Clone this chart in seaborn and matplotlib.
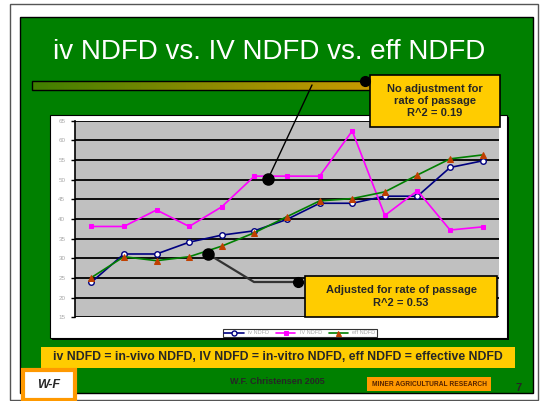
import numpy as np
import pandas as pd
import matplotlib
matplotlib.use("Agg")
import matplotlib.pyplot as plt
from matplotlib.patches import Rectangle
from matplotlib.colors import LinearSegmentedColormap
import seaborn as sns

# ---- data ----
samples = list(range(1, 14))
iv_ndfd = [38.1, 38.1, 42.3, 38.1, 43.1, 50.9, 50.9, 50.9, 62.4, 40.9, 47.2, 37.2, 38.0]
IV_ndfd = [23.9, 31.1, 31.1, 34.1, 35.9, 37.0, 39.9, 44.0, 44.0, 45.8, 45.8, 53.1, 54.8]
eff_ndfd = [25.1, 30.4, 29.4, 30.4, 33.1, 36.5, 40.6, 44.6, 45.2, 46.9, 51.2, 55.3, 56.3]
series_names = ["iv NDFD", "IV NDFD", "eff NDFD"]
y_ticks = [15, 20, 25, 30, 35, 40, 45, 50, 55, 60, 65]

title = "iv NDFD vs. IV NDFD vs. eff NDFD"
note_top = "No adjustment for\nrate of passage\nR^2 = 0.19"
note_bottom = "Adjusted for rate of passage\nR^2 = 0.53"
footnote = "iv NDFD = in-vivo NDFD, IV NDFD = in-vitro NDFD, eff NDFD = effective NDFD"
credit = "W.F. Christensen 2005"
banner = "MINER AGRICULTURAL RESEARCH"
page_no = "7"

sns.set_theme(style="white")
plt.rcParams["font.family"] = ["Liberation Sans", "DejaVu Sans"]

W, H = 542, 401
fig = plt.figure(figsize=(W / 100, H / 100), dpi=100)
fig.patch.set_facecolor("white")

# pixel-space canvas for the slide decoration
bg = fig.add_axes([0, 0, 1, 1], zorder=0)
bg.set_xlim(0, W)
bg.set_ylim(H, 0)
bg.axis("off")


def rect(axis, x0, y0, x1, y1, **kw):
    axis.add_patch(Rectangle((x0, y0), x1 - x0, y1 - y0, **kw))


GREEN = "#008000"
GOLD = "#FFCC00"
ORANGE = "#FF9900"

rect(bg, 10, 4, 538, 400, facecolor="white", edgecolor="#555555", lw=1)
rect(bg, 20, 17, 533, 393, facecolor=GREEN, edgecolor="black", lw=1)

bg.text(269, 52, title, color="white", fontsize=20, ha="center", va="center")

# gradient strip under the title
cmap = LinearSegmentedColormap.from_list("strip", ["#3f7f00", "#8a8a00", "#c89a00"])
grad = np.linspace(0, 1, 256).reshape(1, -1)
bg.imshow(grad, cmap=cmap, extent=(32, 372, 90, 81), aspect="auto", zorder=2)
rect(bg, 32, 81, 372, 90, facecolor="none", edgecolor="black", lw=1, zorder=3)

# chart area with drop shadow
rect(bg, 52, 117, 509, 340, facecolor="black", edgecolor="none", zorder=2)
rect(bg, 50, 115, 507, 338, facecolor="white", edgecolor="black", lw=0.8, zorder=3)

# footnote band and footer
rect(bg, 41, 347, 515, 368, facecolor=GOLD, edgecolor="none")
bg.text(278, 357.5, footnote, fontsize=8.8, fontweight="bold", ha="center", va="center")

rect(bg, 23, 370, 75, 400, facecolor="white", edgecolor=ORANGE, lw=3)
bg.text(49, 385, "W-F", fontsize=9, fontweight="bold", style="italic",
        ha="center", va="center")
bg.text(277, 382, credit, fontsize=6.5, fontweight="bold", ha="center", va="center")
rect(bg, 367, 377, 491, 391, facecolor=ORANGE, edgecolor="none")
bg.text(429, 384, banner, fontsize=4.8, fontweight="bold", color="#552200",
        ha="center", va="center")
bg.text(519, 388, page_no, fontsize=8, fontweight="bold", ha="center", va="center")

# ---- line chart ----
px0, px1, py0, py1 = 75, 499, 120.7, 317.3
ax = fig.add_axes([px0 / W, 1 - py1 / H, (px1 - px0) / W, (py1 - py0) / H], zorder=4)
ax.set_facecolor("#C0C0C0")

sns.lineplot(x=samples, y=IV_ndfd, ax=ax, color="#000080", lw=1.2, marker="o",
             markersize=4, markerfacecolor="white", markeredgecolor="#000080",
             markeredgewidth=1, label=series_names[0], zorder=5)
sns.lineplot(x=samples, y=iv_ndfd, ax=ax, color="#FF00FF", lw=1.2, marker="s",
             markersize=3.5, markerfacecolor="#FF00FF", markeredgecolor="#FF00FF",
             label=series_names[1], zorder=5)
sns.lineplot(x=samples, y=eff_ndfd, ax=ax, color="#008000", lw=1.2, marker="^",
             markersize=4, markerfacecolor="#C04000", markeredgecolor="#C04000",
             label=series_names[2], zorder=5)

ax.set_xlim(0.5, 13.5)
ax.set_ylim(15, 65)
ax.set_yticks(y_ticks)
ax.set_xticks([])
ax.yaxis.grid(True, color="black", lw=1.3)
ax.set_axisbelow(True)
ax.set_xlabel("")
ax.set_ylabel("")
for side in ["top", "right", "bottom"]:
    ax.spines[side].set_visible(False)
ax.spines["left"].set_color("black")
ax.spines["left"].set_linewidth(1.2)
ax.tick_params(axis="y", left=True, length=3, width=1, color="black",
               labelsize=4.5, labelcolor="#a8a8a8", pad=4)

leg = ax.legend(loc="center", bbox_to_anchor=(300 / W, 1 - 333 / H),
                bbox_transform=fig.transFigure, ncol=3, fontsize=4,
                frameon=True, fancybox=False, edgecolor="black",
                handlelength=3.5, columnspacing=1.2, borderpad=0.3, markerscale=0.9)
leg.get_frame().set_linewidth(0.8)
for t in leg.get_texts():
    t.set_color("#a8a8a8")

# ---- callouts ----
fg = fig.add_axes([0, 0, 1, 1], zorder=10)
fg.set_xlim(0, W)
fg.set_ylim(H, 0)
fg.axis("off")

fg.plot([312, 268], [85, 179], color="black", lw=1)
fg.plot([365], [81], "o", color="black", markersize=7)
fg.plot([268], [179], "o", color="black", markersize=8)
rect(fg, 370, 75, 500, 127, facecolor=GOLD, edgecolor="black", lw=1.2)
fg.text(435, 101, note_top, fontsize=8, fontweight="bold", ha="center",
        va="center", linespacing=1.2)

fg.plot([208, 254, 298], [254, 282, 282], color="#333333", lw=1.6)
fg.plot([208], [254], "o", color="black", markersize=8)
fg.plot([298], [282], "o", color="black", markersize=7)
rect(fg, 305, 276, 497, 317, facecolor=GOLD, edgecolor="black", lw=1.2)
fg.text(401, 296.5, note_bottom, fontsize=8, fontweight="bold", ha="center",
        va="center", linespacing=1.3)

fig.savefig("out.png", dpi=100)
